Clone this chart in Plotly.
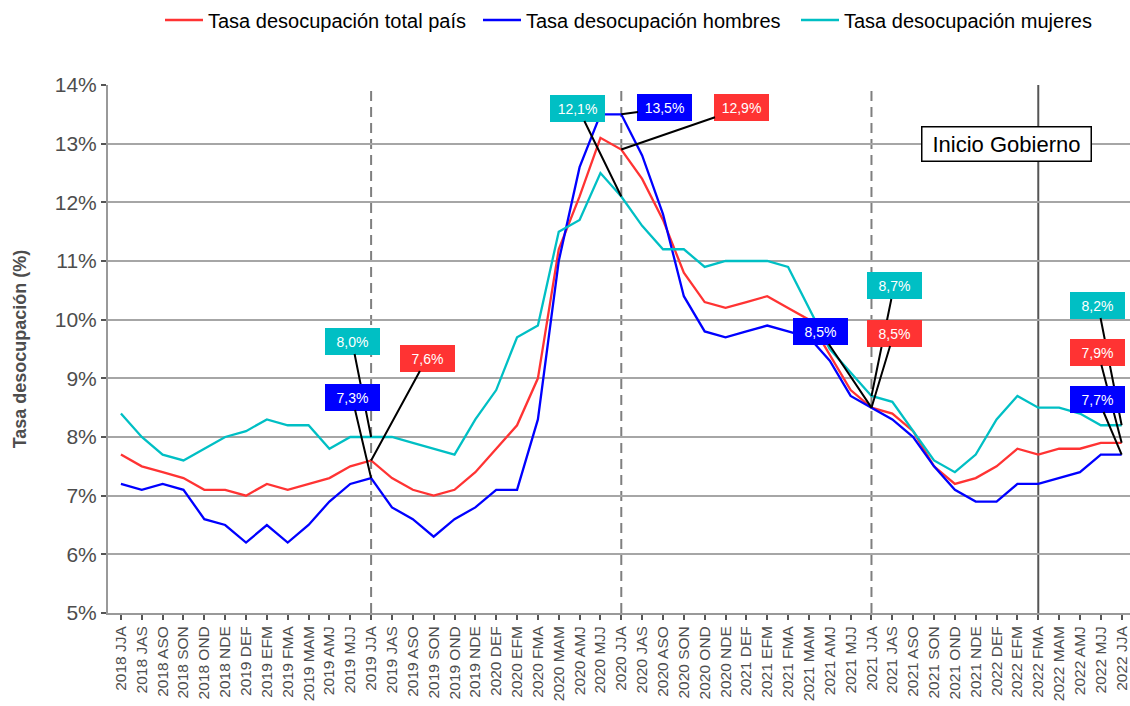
import plotly.graph_objects as go

categorias = [
    "2018 JJA", "2018 JAS", "2018 ASO", "2018 SON", "2018 OND", "2018 NDE",
    "2019 DEF", "2019 EFM", "2019 FMA", "2019 MAM", "2019 AMJ", "2019 MJJ",
    "2019 JJA", "2019 JAS", "2019 ASO", "2019 SON", "2019 OND", "2019 NDE",
    "2020 DEF", "2020 EFM", "2020 FMA", "2020 MAM", "2020 AMJ", "2020 MJJ",
    "2020 JJA", "2020 JAS", "2020 ASO", "2020 SON", "2020 OND", "2020 NDE",
    "2021 DEF", "2021 EFM", "2021 FMA", "2021 MAM", "2021 AMJ", "2021 MJJ",
    "2021 JJA", "2021 JAS", "2021 ASO", "2021 SON", "2021 OND", "2021 NDE",
    "2022 DEF", "2022 EFM", "2022 FMA", "2022 MAM", "2022 AMJ", "2022 MJJ",
    "2022 JJA",
]

tasa_total = [
    7.7, 7.5, 7.4, 7.3, 7.1, 7.1,
    7.0, 7.2, 7.1, 7.2, 7.3, 7.5,
    7.6, 7.3, 7.1, 7.0, 7.1, 7.4,
    7.8, 8.2, 9.0, 11.2, 12.1, 13.1,
    12.9, 12.4, 11.7, 10.8, 10.3, 10.2,
    10.3, 10.4, 10.2, 10.0, 9.4, 8.8,
    8.5, 8.4, 8.1, 7.5, 7.2, 7.3,
    7.5, 7.8, 7.7, 7.8, 7.8, 7.9,
    7.9,
]

tasa_hombres = [
    7.2, 7.1, 7.2, 7.1, 6.6, 6.5,
    6.2, 6.5, 6.2, 6.5, 6.9, 7.2,
    7.3, 6.8, 6.6, 6.3, 6.6, 6.8,
    7.1, 7.1, 8.3, 11.0, 12.6, 13.5,
    13.5, 12.8, 11.8, 10.4, 9.8, 9.7,
    9.8, 9.9, 9.8, 9.7, 9.3, 8.7,
    8.5, 8.3, 8.0, 7.5, 7.1, 6.9,
    6.9, 7.2, 7.2, 7.3, 7.4, 7.7,
    7.7,
]

tasa_mujeres = [
    8.4, 8.0, 7.7, 7.6, 7.8, 8.0,
    8.1, 8.3, 8.2, 8.2, 7.8, 8.0,
    8.0, 8.0, 7.9, 7.8, 7.7, 8.3,
    8.8, 9.7, 9.9, 11.5, 11.7, 12.5,
    12.1, 11.6, 11.2, 11.2, 10.9, 11.0,
    11.0, 11.0, 10.9, 10.2, 9.5, 9.1,
    8.7, 8.6, 8.1, 7.6, 7.4, 7.7,
    8.3, 8.7, 8.5, 8.5, 8.4, 8.2,
    8.2,
]

series_nombres = ["Tasa desocupación total país", "Tasa desocupación hombres", "Tasa desocupación mujeres"]
series_colores = ["#FF3333", "#0000FF", "#00BFC4"]

y_ticks = [5, 6, 7, 8, 9, 10, 11, 12, 13, 14]
y_ticktext = ["5%", "6%", "7%", "8%", "9%", "10%", "11%", "12%", "13%", "14%"]

lineas_punteadas = ["2019 JJA", "2020 JJA", "2021 JJA"]
linea_gobierno = "2022 FMA"

# labelled points: (category, series index, label centre in page px)
etiquetas = [
    ("2019 JJA", 2, (352, 341)),
    ("2019 JJA", 1, (352, 397)),
    ("2019 JJA", 0, (427, 358)),
    ("2020 JJA", 2, (578, 108)),
    ("2020 JJA", 1, (665, 108)),
    ("2020 JJA", 0, (742, 108)),
    ("2021 JJA", 2, (894, 286)),
    ("2021 JJA", 0, (894, 333)),
    ("2021 JJA", 1, (820, 331)),
    ("2022 JJA", 2, (1098, 305)),
    ("2022 JJA", 0, (1098, 352)),
    ("2022 JJA", 1, (1098, 399)),
]

W, H = 1130, 706
# plot area in page pixels
PL, PR, PT, PB = 108, 1130, 85, 613
L, T = PL, PT
R = W - PR
B = H - PB
XR = [-0.62, 48.4]
YR = [5, 14]
pw = PR - PL
ph = PB - PT

def xpx(i):
    return PL + (i - XR[0]) / (XR[1] - XR[0]) * pw

def ypx(v):
    return PT + (YR[1] - v) / (YR[1] - YR[0]) * ph

FONT = "Liberation Sans, Arial, Helvetica, sans-serif"

fig = go.Figure()
series = [tasa_total, tasa_hombres, tasa_mujeres]
for nombre, color, vals in zip(series_nombres, series_colores, series):
    fig.add_trace(go.Scatter(
        x=categorias, y=vals, mode="lines", name=nombre,
        line=dict(color=color, width=2.3),
    ))

shapes = []
for c in lineas_punteadas:
    shapes.append(dict(type="line", xref="x", yref="paper", x0=c, x1=c, y0=0, y1=1,
                       line=dict(color="#7f7f7f", width=2, dash="10px,6px"), layer="below"))
shapes.append(dict(type="line", xref="x", yref="paper", x0=linea_gobierno, x1=linea_gobierno,
                   y0=0, y1=1, line=dict(color="#555555", width=2), layer="below"))

annotations = []
for cat, si, (lx, ly) in etiquetas:
    i = categorias.index(cat)
    v = series[si][i]
    txt = f"{v:.1f}".replace(".", ",") + "%"
    annotations.append(dict(
        x=cat, y=v, xref="x", yref="y", text=txt,
        showarrow=True, arrowhead=0, arrowwidth=2, arrowcolor="black",
        ax=lx - xpx(i), ay=ly - ypx(v), standoff=0, startstandoff=0,
        font=dict(color="white", size=14, family=FONT),
        bgcolor=series_colores[si], bordercolor=series_colores[si],
        borderwidth=1, borderpad=4, width=45, height=17,
    ))

annotations.append(dict(
    x=(1006 - PL) / pw, y=1 - (143.5 - PT) / ph, xref="paper", yref="paper",
    xanchor="center", yanchor="middle",
    text="Inicio Gobierno", showarrow=False,
    font=dict(color="black", size=22, family=FONT),
    bgcolor="white", bordercolor="black", borderwidth=1.5, borderpad=4,
    width=160, height=25,
))

fig.update_layout(
    width=W, height=H,
    margin=dict(l=L, r=R, t=T, b=B, autoexpand=False),
    plot_bgcolor="white", paper_bgcolor="white",
    font=dict(family=FONT, color="#4d4d4d"),
    showlegend=True,
    legend=dict(orientation="h", x=637 / W, xanchor="center", xref="container",
                y=1 - 20 / H, yanchor="middle", yref="container",
                font=dict(size=20, color="black"), itemwidth=38,
                entrywidth=265, entrywidthmode="pixels", traceorder="normal"),
    shapes=shapes,
    annotations=annotations,
    xaxis=dict(
        type="category", categoryorder="array", categoryarray=categorias,
        range=XR, showgrid=False, showline=True, linecolor="#999999", linewidth=2,
        ticks="outside", ticklen=5, tickwidth=2, tickcolor="#555555",
        tickangle=-90, tickfont=dict(size=15.5, color="#4d4d4d"), zeroline=False,
        automargin=False,
    ),
    yaxis=dict(
        range=YR, tickvals=y_ticks, ticktext=y_ticktext,
        showgrid=True, gridcolor="#a6a6a6", gridwidth=2,
        showline=True, linecolor="#999999", linewidth=2,
        ticks="outside", ticklen=5, tickwidth=2, tickcolor="#555555",
        tickfont=dict(size=21, color="#4d4d4d"), zeroline=False,
        automargin=False,
        title=dict(text="<b>Tasa desocupación (%)</b>", font=dict(size=18, color="#4d4d4d"), standoff=23),
    ),
)

fig.write_html(
    "out.html",
    config={"displayModeBar": False},
    post_script="document.body.style.margin='0';document.body.style.overflow='hidden';",
)
